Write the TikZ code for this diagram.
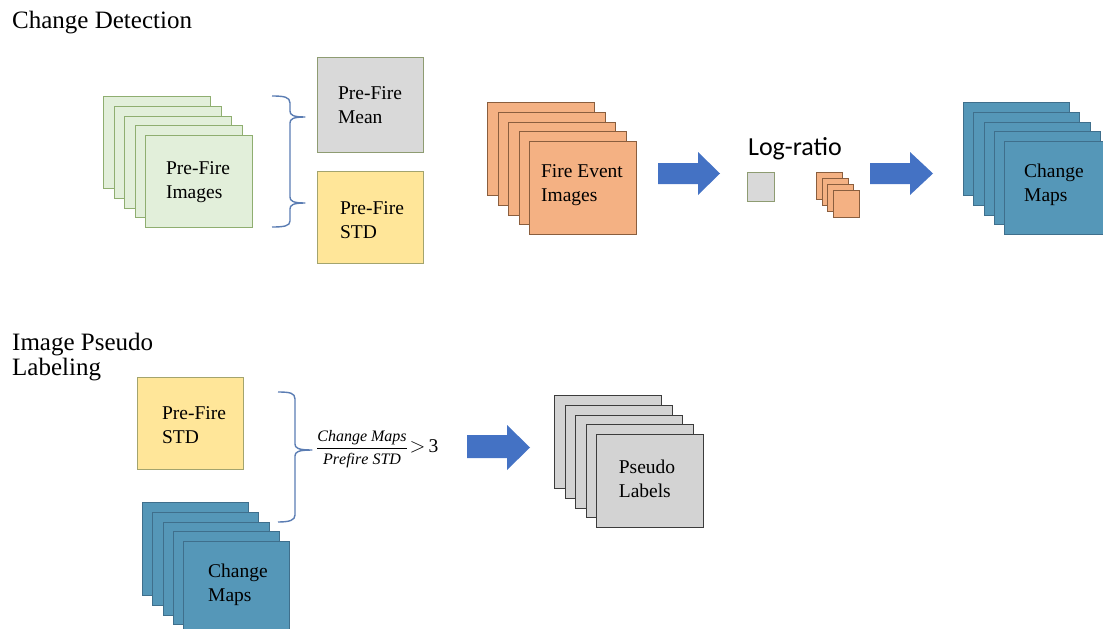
\documentclass[tikz,border=0pt]{standalone}
\usepackage{fontspec}
\setmainfont{Liberation Serif}
\newfontfamily\calib{Carlito}
\definecolor{gfill}{HTML}{E2EFDA}
\definecolor{gdraw}{HTML}{8FAE70}
\definecolor{mfill}{HTML}{D9D9D9}
\definecolor{mdraw}{HTML}{8E9C72}
\definecolor{yfill}{HTML}{FFE699}
\definecolor{ydraw}{HTML}{A3A46E}
\definecolor{ofill}{HTML}{F4B183}
\definecolor{odraw}{HTML}{8A5E3E}
\definecolor{cfill}{HTML}{5597B8}
\definecolor{cdraw}{HTML}{3F6F8C}
\definecolor{pfill}{HTML}{D3D3D3}
\definecolor{pdraw}{HTML}{3C3C3C}
\definecolor{ablue}{HTML}{4472C4}
\definecolor{bcol}{HTML}{5B7DB3}
\begin{document}
\begin{tikzpicture}[x=1pt,y=-1pt,
  card/.style={draw, line width=1pt, anchor=north west, inner sep=0pt,
    minimum width=107pt, minimum height=93pt},
  green/.style={card, fill=gfill, draw=gdraw, minimum height=92pt},
  orange/.style={card, fill=ofill, draw=odraw},
  cmap/.style={card, fill=cfill, draw=cdraw, minimum width=106pt},
  pseudo/.style={card, fill=pfill, draw=pdraw},
  single/.style={draw, line width=1pt, inner sep=0pt, minimum width=106pt, minimum height=94pt},
  lbl/.style={font=\fontsize{19.5}{24}\selectfont, align=left, text=black},
  title/.style={font=\fontsize{25}{25}\selectfont, align=left, anchor=west, inner sep=0pt},
  blockarrow/.style={fill=ablue, draw=none},
  brace/.style={draw=bcol, line width=1.4pt, line join=round}
]
\useasboundingbox (0,0) rectangle (1103,629);

% ---- titles
\node[title] (t1) at (12,23) {Change Detection};
\node[title] (t2) at (12,357) {Image Pseudo\\Labeling};

% ---- pre-fire images stack
\foreach \i in {0,...,3}
  \node[green] (pi\i) at (103+10.5*\i, 96+9.75*\i) {};
\node[green] (pi4) at (145,135) {};
\node[lbl] (pitext) at (198,182) {Pre-Fire\\Images};

% ---- brace (top)
\draw[brace] (272,96) .. controls (284,96) and (290,97) .. (290,103) -- (290,111)
  .. controls (290,115) and (293,117) .. (305,117)
  .. controls (293,117) and (290,119) .. (290,123) -- (290,197)
  .. controls (290,201) and (293,203) .. (305,203)
  .. controls (293,203) and (290,205) .. (290,209) -- (290,221)
  .. controls (290,226) and (284,227) .. (272,227);

% ---- pre-fire mean / std
\node[single, fill=mfill, draw=mdraw, anchor=north west, minimum height=95pt] (mean) at (317,57) {};
\node[lbl] (meantext) at (370,105) {Pre-Fire\\Mean};
\node[single, fill=yfill, draw=ydraw, anchor=north west, minimum height=92pt] (std) at (317,171) {};
\node[lbl] (stdtext) at (372,220) {Pre-Fire\\STD};

% ---- fire event stack
\foreach \i in {0,...,3}
  \node[orange] (fe\i) at (487+10.5*\i, 102+9.75*\i) {};
\node[orange] (fe4) at (529,141) {};
\node[lbl] (fetext) at (582,185) {Fire Event\\Images};

% ---- arrow 1
\fill[blockarrow] (658,163) -- (698,163) -- (698,152) -- (720,173.5) -- (698,195) -- (698,184) -- (658,184) -- cycle;

% ---- log-ratio
\node[font=\calib\fontsize{26}{30}\selectfont, inner sep=0pt] (lr) at (795,149) {Log-ratio};
\node[draw=mdraw, fill=mfill, line width=1pt, anchor=north west, minimum width=27pt, minimum height=29pt, inner sep=0pt] (sq) at (747,172) {};
\foreach \i in {0,...,3}
  \node[draw=odraw, fill=ofill, line width=0.9pt, anchor=north west, minimum width=26pt, minimum height=27pt, inner sep=0pt] (so\i) at (816+5.67*\i, 172+6*\i) {};

% ---- arrow 2
\fill[blockarrow] (870,163) -- (910,163) -- (910,152) -- (933,173.5) -- (910,195) -- (910,184) -- (870,184) -- cycle;

% ---- change maps stack (top)
\foreach \i in {0,...,3}
  \node[cmap] (cm\i) at (963+10.25*\i, 102+9.75*\i) {};
\node[cmap] (cm4) at (1004,141) {};
\node[lbl] (cmtext) at (1054,185) {Change\\Maps};

% ---- bottom: pre-fire std
\node[single, fill=yfill, draw=ydraw, anchor=north west, minimum height=92pt] (std2) at (137,377) {};
\node[lbl] (std2text) at (194,425) {Pre-Fire\\STD};

% ---- bottom: change maps stack
\foreach \i in {0,...,3}
  \node[cmap] (cb\i) at (142+10.25*\i, 502+9.75*\i) {};
\node[cmap] (cb4) at (183,541) {};
\node[lbl] (cbtext) at (238,585) {Change\\Maps};

% ---- brace (bottom)
\draw[brace] (278,392) .. controls (290,392) and (295,393) .. (295,399) -- (295,444)
  .. controls (295,448) and (298,450) .. (312,450)
  .. controls (298,450) and (295,452) .. (295,456) -- (295,515)
  .. controls (295,520) and (290,522) .. (278,522);

% ---- formula
\node[anchor=west, inner sep=0pt] (frm) at (316,449)
  {{\fontsize{16}{18}\selectfont$\displaystyle\frac{\mathit{Change\ Maps}}{\mathit{Prefire\ STD}}$}\,{\fontsize{19.5}{22}\selectfont$>$\,3}};

% ---- arrow 3
\fill[blockarrow] (467,435) -- (507,435) -- (507,425) -- (530,447.5) -- (507,470) -- (507,458) -- (467,458) -- cycle;

% ---- pseudo labels stack
\foreach \i in {0,...,3}
  \node[pseudo] (ps\i) at (554+10.5*\i, 395+9.75*\i) {};
\node[pseudo] (ps4) at (596,434) {};
\node[lbl] (pstext) at (647,479) {Pseudo\\Labels};
\end{tikzpicture}
\end{document}
